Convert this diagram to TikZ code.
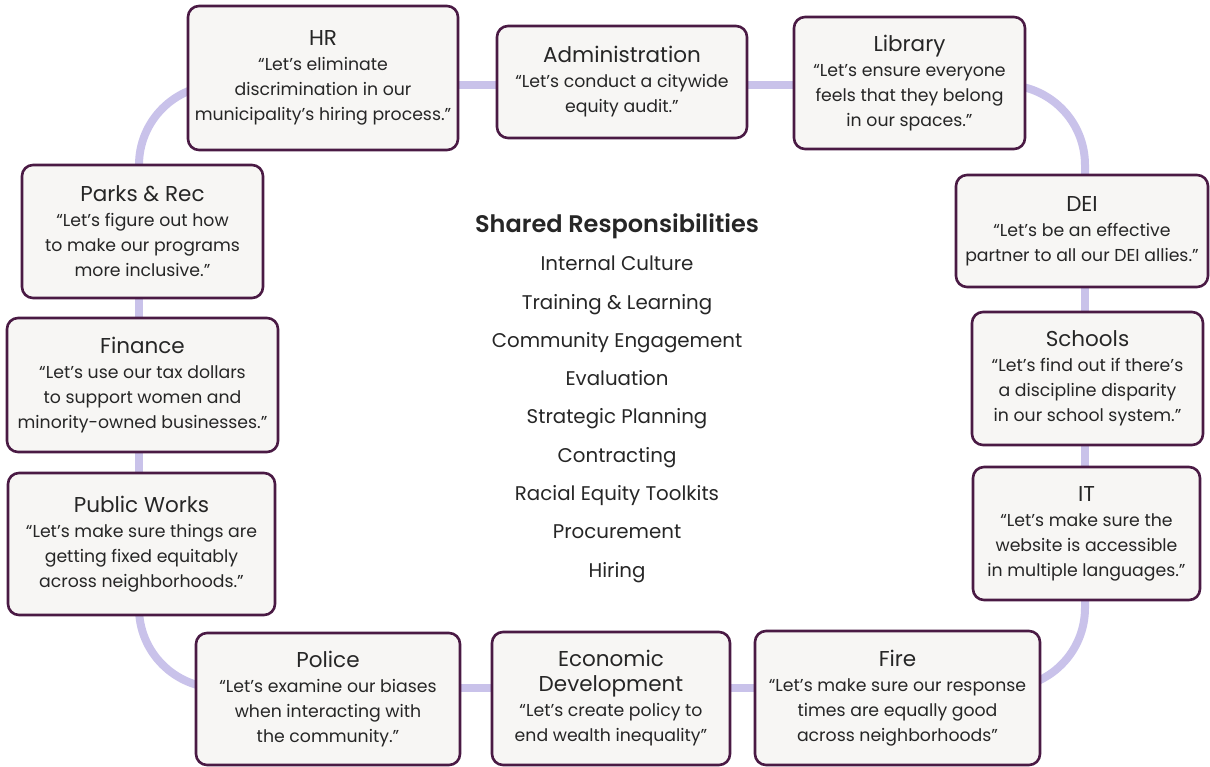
\documentclass[tikz,border=0pt]{standalone}
\usepackage{fontspec}
\setmainfont{Poppins}
\newfontfamily\semib{Poppins SemiBold}
\pgfdeclarelayer{bg}
\pgfsetlayers{bg,main}
\definecolor{plum}{HTML}{4A1A44}
\definecolor{paper}{HTML}{F7F6F4}
\definecolor{lilac}{HTML}{C9C2EA}
\definecolor{ink}{HTML}{262626}
\newcommand{\dtitle}[1]{{\fontsize{21.5}{25.5}\selectfont #1}}
\tikzset{
  dept/.style={draw=plum, line width=2.6pt, fill=paper, rounded corners=11pt,
    align=center, text=ink, inner sep=0pt,
    font=\fontsize{17.3}{25}\selectfont},
  ring/.style={draw=lilac, line width=8pt},
  heading/.style={anchor=base, text=ink, font=\fontsize{24}{28}\semib},
  topic/.style={anchor=base, text=ink, font=\fontsize{19.8}{24}\selectfont},
}
\begin{document}
\begin{tikzpicture}[x=1pt,y=-1pt]
\useasboundingbox (0,0) rectangle (1210,767);

% department boxes
\node[dept, minimum width=270, minimum height=144] (hr) at (323,78)
  {\dtitle{HR}\\ “Let’s eliminate\\ discrimination in our\\ municipality’s hiring process.”};
\node[dept, minimum width=250, minimum height=112] (admin) at (622,82)
  {\dtitle{Administration}\\ “Let’s conduct a citywide\\ equity audit.”};
\node[dept, minimum width=231, minimum height=132] (library) at (909.5,83)
  {\dtitle{Library}\\ “Let’s ensure everyone\\ feels that they belong\\ in our spaces.”};
\node[dept, minimum width=252, minimum height=112] (dei) at (1082,231)
  {\dtitle{DEI}\\ “Let’s be an effective\\ partner to all our DEI allies.”};
\node[dept, minimum width=231, minimum height=133] (schools) at (1087.5,378.5)
  {\dtitle{Schools}\\ “Let’s find out if there’s\\ a discipline disparity\\ in our school system.”};
\node[dept, minimum width=227, minimum height=133] (it) at (1086.5,533.5)
  {\dtitle{IT}\\ “Let’s make sure the\\ website is accessible\\ in multiple languages.”};
\node[dept, minimum width=285, minimum height=134] (fire) at (897.5,698)
  {\dtitle{Fire}\\ “Let’s make sure our response\\ times are equally good\\ across neighborhoods”};
\node[dept, minimum width=238, minimum height=133] (econ) at (611,698.5)
  {\dtitle{Economic}\\ \dtitle{Development}\\ “Let’s create policy to\\ end wealth inequality”};
\node[dept, minimum width=264, minimum height=132] (police) at (328,699)
  {\dtitle{Police}\\ “Let’s examine our biases\\ when interacting with\\ the community.”};
\node[dept, minimum width=267, minimum height=142] (pw) at (141.5,544)
  {\dtitle{Public Works}\\ “Let’s make sure things are\\ getting fixed equitably\\ across neighborhoods.”};
\node[dept, minimum width=271, minimum height=134] (finance) at (142.5,385)
  {\dtitle{Finance}\\ “Let’s use our tax dollars\\ to support women and\\ minority-owned businesses.”};
\node[dept, minimum width=241, minimum height=133] (parks) at (142.5,231.5)
  {\dtitle{Parks \& Rec}\\ “Let’s figure out how\\ to make our programs\\ more inclusive.”};

% centre list
\node[heading] (shared) at (617,233) {Shared Responsibilities};
\node[topic] (t1) at (617,271) {Internal Culture};
\node[topic] (t2) at (617,309) {Training \& Learning};
\node[topic] (t3) at (617,348) {Community Engagement};
\node[topic] (t4) at (617,385) {Evaluation};
\node[topic] (t5) at (617,423) {Strategic Planning};
\node[topic] (t6) at (617,462) {Contracting};
\node[topic] (t7) at (617,500) {Racial Equity Toolkits};
\node[topic] (t8) at (617,538) {Procurement};
\node[topic] (t9) at (617,577) {Hiring};

% the ring joining the departments
\coordinate (T) at (0,85);
\coordinate (B) at (0,688);
\coordinate (L) at (139,0);
\coordinate (R) at (1085,0);
\begin{pgfonlayer}{bg}
  \draw[ring] (hr |- T) -- (admin |- T);
  \draw[ring] (admin |- T) -- (library |- T);
  \draw[ring, rounded corners=80pt] (library |- T) -| (dei -| R);
  \draw[ring] (dei -| R) -- (schools -| R);
  \draw[ring] (schools -| R) -- (it -| R);
  \draw[ring, rounded corners=80pt] (it -| R) |- (fire |- B);
  \draw[ring] (fire |- B) -- (econ |- B);
  \draw[ring] (econ |- B) -- (police |- B);
  \draw[ring, rounded corners=80pt] (police |- B) -| (pw -| L);
  \draw[ring] (pw -| L) -- (finance -| L);
  \draw[ring] (finance -| L) -- (parks -| L);
  \draw[ring, rounded corners=80pt] (parks -| L) |- (hr |- T);
\end{pgfonlayer}
\end{tikzpicture}
\end{document}
